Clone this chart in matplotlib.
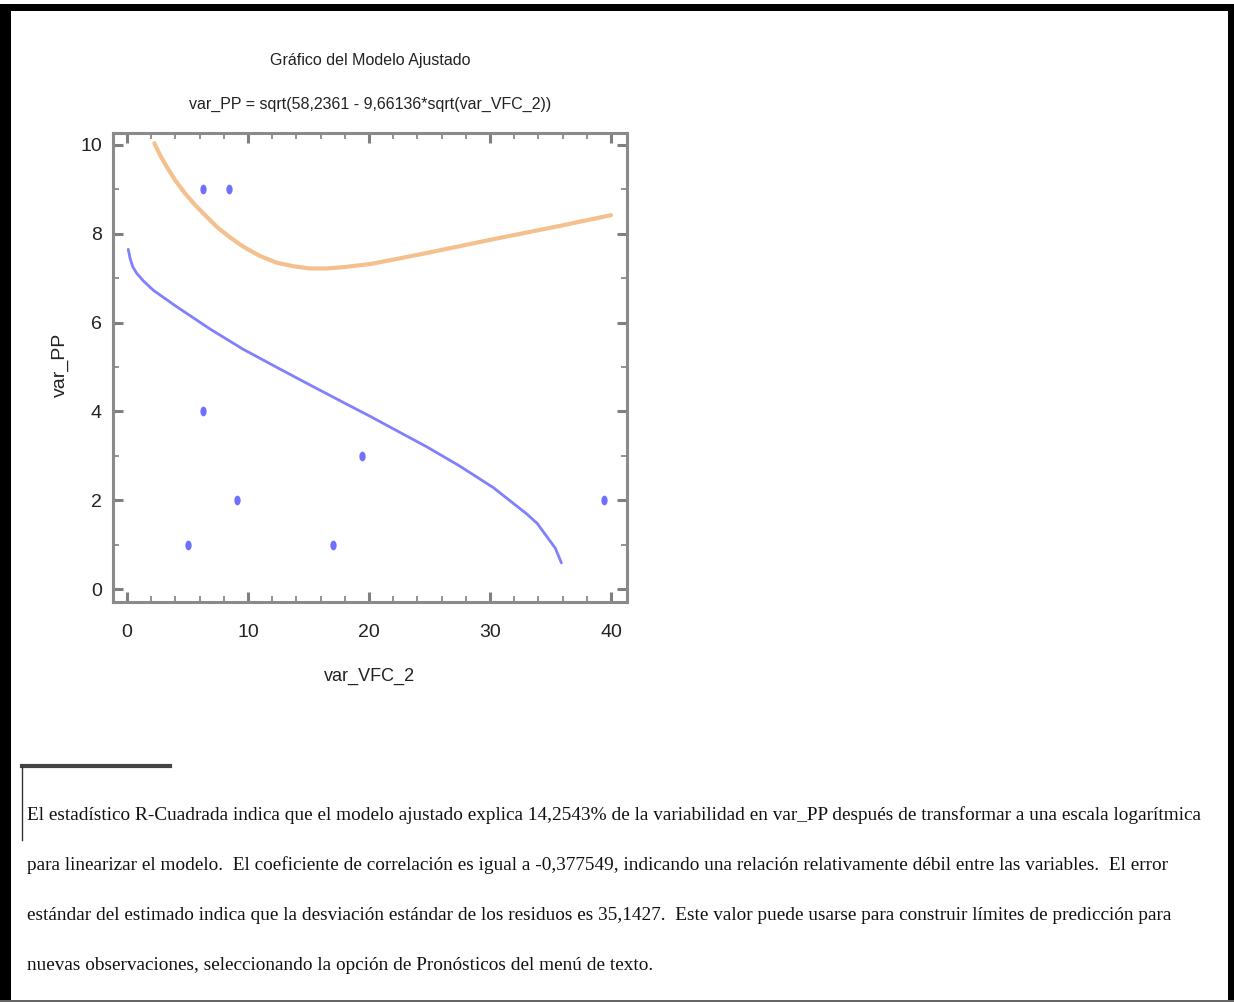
import matplotlib
matplotlib.use("Agg")
import matplotlib.pyplot as plt
from matplotlib.markers import MarkerStyle
from matplotlib.transforms import Affine2D
from matplotlib.patches import Rectangle
from matplotlib.lines import Line2D
from matplotlib.ticker import MultipleLocator

# ---- data ----
obs_x = [5.0, 6.3, 8.4, 6.3, 9.1, 17.0, 19.4, 39.4]
obs_y = [1, 9, 9, 4, 2, 1, 3, 2]

fit_x = [0.1, 0.25, 0.47, 0.8, 1.35, 2.17, 3.0, 4.1, 6.9, 9.6, 12.4, 15.1, 17.9, 20.1,
         22.0, 24.8, 27.5, 30.3, 33.0, 33.9, 34.7, 35.4, 35.9]
fit_y = [7.65, 7.45, 7.26, 7.11, 6.94, 6.73, 6.57, 6.36, 5.85, 5.40, 4.99, 4.60, 4.20, 3.89,
         3.61, 3.20, 2.77, 2.28, 1.70, 1.48, 1.18, 0.92, 0.59]

upper_x = [2.26, 2.73, 3.28, 3.97, 4.79, 5.62, 6.45, 7.41, 8.51, 9.61, 11.0, 12.37, 13.75,
           15.12, 16.5, 17.9, 20.1, 22.4, 24.8, 30.3, 35.8, 40.0]
upper_y = [10.04, 9.77, 9.51, 9.21, 8.91, 8.65, 8.42, 8.16, 7.92, 7.71, 7.50, 7.35, 7.27,
           7.22, 7.22, 7.25, 7.32, 7.44, 7.57, 7.88, 8.18, 8.42]

x_ticks = [0, 10, 20, 30, 40]
y_ticks = [0, 2, 4, 6, 8, 10]

title1 = "Gráfico del Modelo Ajustado"
title2 = "var_PP = sqrt(58,2361 - 9,66136*sqrt(var_VFC_2))"
xlabel = "var_VFC_2"
ylabel = "var_PP"
paragraph = [
    "El estadístico R-Cuadrada indica que el modelo ajustado explica 14,2543% de la variabilidad en var_PP después de transformar a una escala logarítmica",
    "para linearizar el modelo.  El coeficiente de correlación es igual a -0,377549, indicando una relación relativamente débil entre las variables.  El error",
    "estándar del estimado indica que la desviación estándar de los residuos es 35,1427.  Este valor puede usarse para construir límites de predicción para",
    "nuevas observaciones, seleccionando la opción de Pronósticos del menú de texto.",
]

W, H = 1234, 1002
fig = plt.figure(figsize=(W / 100, H / 100), dpi=100)
fig.patch.set_facecolor("white")

sans = ["Liberation Sans Narrow", "Liberation Sans", "DejaVu Sans"]
serif = ["Liberation Serif", "DejaVu Serif"]

def fx(px):
    return px / W

def fy(py):
    return 1 - py / H

ax = fig.add_axes([fx(113), fy(602), fx(627) - fx(113), fy(133) - fy(602)])
ax.set_xlim(-1.16, 41.32)
ax.set_ylim(-0.29, 10.27)

ax.plot(upper_x, upper_y, color="#F4C08E", lw=3.0, solid_capstyle="round",
        solid_joinstyle="round", zorder=2)
ax.plot(fit_x, fit_y, color="#8080FF", lw=2.0, solid_capstyle="round",
        solid_joinstyle="round", zorder=3)
mk = MarkerStyle("o", transform=Affine2D().scale(0.65, 1.0))
ax.plot(obs_x, obs_y, linestyle="none", marker=mk, markersize=7,
        color="#7070FF", markeredgewidth=0, zorder=4)

ax.set_xticks(x_ticks)
ax.set_yticks(y_ticks)
ax.xaxis.set_minor_locator(MultipleLocator(2))
ax.yaxis.set_minor_locator(MultipleLocator(1))
ax.tick_params(which="both", direction="in", top=True, right=True, colors="#808080",
               labelcolor="#222222")
ax.tick_params(which="major", length=7, width=2.2, labelsize=14)
ax.tick_params(axis="x", which="major", pad=16)
ax.tick_params(axis="y", which="major", pad=8)
ax.tick_params(which="minor", length=4.5, width=1.2)
for lab in ax.get_xticklabels() + ax.get_yticklabels():
    lab.set_family(sans)
for s in ax.spines.values():
    s.set_color("#8a8a8a")
    s.set_linewidth(2.2)

fig.text(fx(370), fy(60), title1, ha="center", va="center", fontsize=11.5, family=sans, color="#222222")
fig.text(fx(370), fy(104), title2, ha="center", va="center", fontsize=11.5, family=sans, color="#222222")
fig.text(fx(370), fy(676), xlabel, ha="center", va="center", fontsize=13, family=sans, color="#222222")
fig.text(fx(60), fy(365), ylabel, ha="center", va="center", rotation=90, fontsize=14, family=sans, color="#222222")

line_y = [815, 865, 915, 965]
for t, yy in zip(paragraph, line_y):
    fig.text(fx(27), fy(yy), t, ha="left", va="center", fontsize=13.85, family=serif, color="#111111")

# footnote separator lines
fig.add_artist(Line2D([fx(22), fx(170)], [fy(766), fy(766)], color="#444444", lw=3.0))
fig.add_artist(Line2D([fx(22), fx(22)], [fy(766), fy(840)], color="#333333", lw=1.0))

# outer frame
fig.add_artist(Rectangle((0, fy(11)), 1, fy(4) - fy(11), transform=fig.transFigure, color="black", lw=0))
fig.add_artist(Rectangle((0, 0), fx(11), fy(4), transform=fig.transFigure, color="black", lw=0))
fig.add_artist(Rectangle((fx(1228), 0), 1 - fx(1228), fy(4), transform=fig.transFigure, color="black", lw=0))
fig.add_artist(Rectangle((0, 0), 1, fy(1000), transform=fig.transFigure, color="#666666", lw=0))

fig.savefig("out.png", dpi=100)
